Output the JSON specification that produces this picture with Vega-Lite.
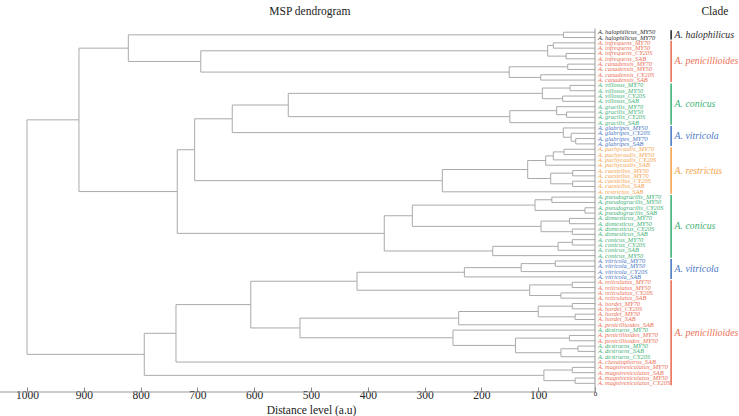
{
  "$schema": "https://vega.github.io/schema/vega-lite/v6.json",
  "width": 739,
  "height": 392,
  "autosize": {"type": "none"},
  "padding": {"left": 0, "top": 0, "right": 0, "bottom": 24},
  "background": "white",
  "config": {"view": {"stroke": null}, "font": "Liberation Serif"},
  "datasets": {
    "leaves": [
      {"i": 1, "label": "A. halophilicus_MY50", "grp": "hal"},
      {"i": 2, "label": "A. halophilicus_MY70", "grp": "hal"},
      {"i": 3, "label": "A. infrequens_MY70", "grp": "pen"},
      {"i": 4, "label": "A. infrequens_MY50", "grp": "pen"},
      {"i": 5, "label": "A. infrequens_CY20S", "grp": "pen"},
      {"i": 6, "label": "A. infrequens_SAB", "grp": "pen"},
      {"i": 7, "label": "A. canadensis_MY70", "grp": "pen"},
      {"i": 8, "label": "A. canadensis_MY50", "grp": "pen"},
      {"i": 9, "label": "A. canadensis_CY20S", "grp": "pen"},
      {"i": 10, "label": "A. canadensis_SAB", "grp": "pen"},
      {"i": 11, "label": "A. villosus_MY70", "grp": "con"},
      {"i": 12, "label": "A. villosus_MY50", "grp": "con"},
      {"i": 13, "label": "A. villosus_CY20S", "grp": "con"},
      {"i": 14, "label": "A. villosus_SAB", "grp": "con"},
      {"i": 15, "label": "A. gracilis_MY70", "grp": "con"},
      {"i": 16, "label": "A. gracilis_MY50", "grp": "con"},
      {"i": 17, "label": "A. gracilis_CY20S", "grp": "con"},
      {"i": 18, "label": "A. gracilis_SAB", "grp": "con"},
      {"i": 19, "label": "A. glabripes_MY50", "grp": "vit"},
      {"i": 20, "label": "A. glabripes_CY20S", "grp": "vit"},
      {"i": 21, "label": "A. glabripes_MY70", "grp": "vit"},
      {"i": 22, "label": "A. glabripes_SAB", "grp": "vit"},
      {"i": 23, "label": "A. pachycaulis_MY70", "grp": "res"},
      {"i": 24, "label": "A. pachycaulis_MY50", "grp": "res"},
      {"i": 25, "label": "A. pachycaulis_CY20S", "grp": "res"},
      {"i": 26, "label": "A. pachycaulis_SAB", "grp": "res"},
      {"i": 27, "label": "A. caesiellus_MY50", "grp": "res"},
      {"i": 28, "label": "A. caesiellus_MY70", "grp": "res"},
      {"i": 29, "label": "A. caesiellus_CY20S", "grp": "res"},
      {"i": 30, "label": "A. caesiellus_SAB", "grp": "res"},
      {"i": 31, "label": "A. restrictus_SAB", "grp": "res"},
      {"i": 32, "label": "A. pseudogracilis_MY70", "grp": "con"},
      {"i": 33, "label": "A. pseudogracilis_MY50", "grp": "con"},
      {"i": 34, "label": "A. pseudogracilis_CY20S", "grp": "con"},
      {"i": 35, "label": "A. pseudogracilis_SAB", "grp": "con"},
      {"i": 36, "label": "A. domesticus_MY70", "grp": "con"},
      {"i": 37, "label": "A. domesticus_MY50", "grp": "con"},
      {"i": 38, "label": "A. domesticus_CY20S", "grp": "con"},
      {"i": 39, "label": "A. domesticus_SAB", "grp": "con"},
      {"i": 40, "label": "A. conicus_MY70", "grp": "con"},
      {"i": 41, "label": "A. conicus_CY20S", "grp": "con"},
      {"i": 42, "label": "A. conicus_SAB", "grp": "con"},
      {"i": 43, "label": "A. conicus_MY50", "grp": "con"},
      {"i": 44, "label": "A. vitricola_MY70", "grp": "vit"},
      {"i": 45, "label": "A. vitricola_MY50", "grp": "vit"},
      {"i": 46, "label": "A. vitricola_CY20S", "grp": "vit"},
      {"i": 47, "label": "A. vitricola_SAB", "grp": "vit"},
      {"i": 48, "label": "A. reticulatus_MY70", "grp": "pen"},
      {"i": 49, "label": "A. reticulatus_MY50", "grp": "pen"},
      {"i": 50, "label": "A. reticulatus_CY20S", "grp": "pen"},
      {"i": 51, "label": "A. reticulatus_SAB", "grp": "pen"},
      {"i": 52, "label": "A. hordei_MY70", "grp": "pen"},
      {"i": 53, "label": "A. hordei_CY20S", "grp": "pen"},
      {"i": 54, "label": "A. hordei_MY50", "grp": "pen"},
      {"i": 55, "label": "A. hordei_SAB", "grp": "pen"},
      {"i": 56, "label": "A. penicillioides_SAB", "grp": "pen"},
      {"i": 57, "label": "A. destruens_MY70", "grp": "con"},
      {"i": 58, "label": "A. penicillioides_MY70", "grp": "pen"},
      {"i": 59, "label": "A. penicillioides_MY50", "grp": "pen"},
      {"i": 60, "label": "A. destruens_MY50", "grp": "con"},
      {"i": 61, "label": "A. destruens_SAB", "grp": "con"},
      {"i": 62, "label": "A. destruens_CY20S", "grp": "con"},
      {"i": 63, "label": "A. clavatophorus_SAB", "grp": "pen"},
      {"i": 64, "label": "A. magnivesiculatus_MY70", "grp": "pen"},
      {"i": 65, "label": "A. magnivesiculatus_SAB", "grp": "pen"},
      {"i": 66, "label": "A. magnivesiculatus_MY50", "grp": "pen"},
      {"i": 67, "label": "A. magnivesiculatus_CY20S", "grp": "pen"}
    ],
    "nodes": [
      {"h": 55.6, "ya": 1, "ha": 0, "yb": 2, "hb": 0},
      {"h": 73.4, "ya": 3, "ha": 0, "yb": 4, "hb": 0},
      {"h": 51, "ya": 5, "ha": 0, "yb": 6, "hb": 0},
      {"h": 83.3, "ya": 3.5, "ha": 73.4, "yb": 5.5, "hb": 51},
      {"h": 48, "ya": 7, "ha": 0, "yb": 8, "hb": 0},
      {"h": 95.6, "ya": 9, "ha": 0, "yb": 10, "hb": 0},
      {"h": 151, "ya": 7.5, "ha": 48, "yb": 9.5, "hb": 95.6},
      {"h": 694, "ya": 4.5, "ha": 83.3, "yb": 8.5, "hb": 151},
      {"h": 821.6, "ya": 1.5, "ha": 55.6, "yb": 6.5, "hb": 694},
      {"h": 44, "ya": 11, "ha": 0, "yb": 12, "hb": 0},
      {"h": 57, "ya": 13, "ha": 0, "yb": 14, "hb": 0},
      {"h": 92.7, "ya": 11.5, "ha": 44, "yb": 13.5, "hb": 57},
      {"h": 50, "ya": 16, "ha": 0, "yb": 17, "hb": 0},
      {"h": 67.5, "ya": 15, "ha": 0, "yb": 16.5, "hb": 50},
      {"h": 150, "ya": 15.75, "ha": 67.5, "yb": 18, "hb": 0},
      {"h": 540, "ya": 12.5, "ha": 92.7, "yb": 16.875, "hb": 150},
      {"h": 34, "ya": 21, "ha": 0, "yb": 22, "hb": 0},
      {"h": 42, "ya": 20, "ha": 0, "yb": 21.5, "hb": 34},
      {"h": 55.8, "ya": 19, "ha": 0, "yb": 20.75, "hb": 42},
      {"h": 638.6, "ya": 14.6875, "ha": 540, "yb": 19.875, "hb": 55.8},
      {"h": 54.6, "ya": 23, "ha": 0, "yb": 24, "hb": 0},
      {"h": 73.4, "ya": 23.5, "ha": 54.6, "yb": 25, "hb": 0},
      {"h": 86.8, "ya": 24.25, "ha": 73.4, "yb": 26, "hb": 0},
      {"h": 39.3, "ya": 27, "ha": 0, "yb": 28, "hb": 0},
      {"h": 39.3, "ya": 29, "ha": 0, "yb": 30, "hb": 0},
      {"h": 78, "ya": 27.5, "ha": 39.3, "yb": 29.5, "hb": 39.3},
      {"h": 118.5, "ya": 25.125, "ha": 86.8, "yb": 28.5, "hb": 78},
      {"h": 268.8, "ya": 26.8125, "ha": 118.5, "yb": 31, "hb": 0},
      {"h": 704.8, "ya": 17.28125, "ha": 638.6, "yb": 28.90625, "hb": 268.8},
      {"h": 76, "ya": 32, "ha": 0, "yb": 33, "hb": 0},
      {"h": 17.6, "ya": 34, "ha": 0, "yb": 35, "hb": 0},
      {"h": 105.6, "ya": 32.5, "ha": 76, "yb": 34.5, "hb": 17.6},
      {"h": 45, "ya": 36, "ha": 0, "yb": 37, "hb": 0},
      {"h": 40, "ya": 38, "ha": 0, "yb": 39, "hb": 0},
      {"h": 95, "ya": 36.5, "ha": 45, "yb": 38.5, "hb": 40},
      {"h": 321.6, "ya": 33.5, "ha": 105.6, "yb": 37.5, "hb": 95},
      {"h": 40, "ya": 40, "ha": 0, "yb": 41, "hb": 0},
      {"h": 65, "ya": 40.5, "ha": 40, "yb": 42, "hb": 0},
      {"h": 180, "ya": 41.25, "ha": 65, "yb": 43, "hb": 0},
      {"h": 371, "ya": 35.5, "ha": 321.6, "yb": 42.125, "hb": 180},
      {"h": 735.4, "ya": 23.09375, "ha": 704.8, "yb": 38.8125, "hb": 371},
      {"h": 908.5, "ya": 4.0, "ha": 821.6, "yb": 30.953125, "hb": 735.4},
      {"h": 70, "ya": 44, "ha": 0, "yb": 45, "hb": 0},
      {"h": 130, "ya": 44.5, "ha": 70, "yb": 46, "hb": 0},
      {"h": 230, "ya": 45.25, "ha": 130, "yb": 47, "hb": 0},
      {"h": 40, "ya": 48, "ha": 0, "yb": 49, "hb": 0},
      {"h": 60, "ya": 50, "ha": 0, "yb": 51, "hb": 0},
      {"h": 115, "ya": 48.5, "ha": 40, "yb": 50.5, "hb": 60},
      {"h": 419, "ya": 46.125, "ha": 230, "yb": 49.5, "hb": 115},
      {"h": 40, "ya": 52, "ha": 0, "yb": 53, "hb": 0},
      {"h": 35, "ya": 54, "ha": 0, "yb": 55, "hb": 0},
      {"h": 100, "ya": 52.5, "ha": 40, "yb": 54.5, "hb": 35},
      {"h": 240, "ya": 53.5, "ha": 100, "yb": 56, "hb": 0},
      {"h": 45, "ya": 58, "ha": 0, "yb": 59, "hb": 0},
      {"h": 30, "ya": 60, "ha": 0, "yb": 61, "hb": 0},
      {"h": 60, "ya": 60.5, "ha": 30, "yb": 62, "hb": 0},
      {"h": 140, "ya": 58.5, "ha": 45, "yb": 61.25, "hb": 60},
      {"h": 250, "ya": 57, "ha": 0, "yb": 59.875, "hb": 140},
      {"h": 519.4, "ya": 54.75, "ha": 240, "yb": 58.4375, "hb": 250},
      {"h": 606, "ya": 47.8125, "ha": 419, "yb": 56.59375, "hb": 519.4},
      {"h": 737.7, "ya": 52.203125, "ha": 606, "yb": 63, "hb": 0},
      {"h": 40, "ya": 64, "ha": 0, "yb": 65, "hb": 0},
      {"h": 35, "ya": 66, "ha": 0, "yb": 67, "hb": 0},
      {"h": 90, "ya": 64.5, "ha": 40, "yb": 66.5, "hb": 35},
      {"h": 793.5, "ya": 57.6015625, "ha": 737.7, "yb": 65.5, "hb": 90},
      {"h": 1000, "ya": 17.4765625, "ha": 908.5, "yb": 61.55078125, "hb": 793.5}
    ],
    "clades": [
      {"name": "A. halophilicus", "grp": "hal", "first": 1, "last": 2, "mid": 1.5},
      {"name": "A. penicillioides", "grp": "pen", "first": 3, "last": 10, "mid": 6.5},
      {"name": "A. conicus", "grp": "con", "first": 11, "last": 18, "mid": 14.5},
      {"name": "A. vitricola", "grp": "vit", "first": 19, "last": 22, "mid": 20.5},
      {"name": "A. restrictus", "grp": "res", "first": 23, "last": 31, "mid": 27},
      {"name": "A. conicus", "grp": "con", "first": 32, "last": 43, "mid": 37.5},
      {"name": "A. vitricola", "grp": "vit", "first": 44, "last": 47, "mid": 45.5},
      {"name": "A. penicillioides", "grp": "pen", "first": 48, "last": 67, "mid": 57.5}
    ]
  },
  "layer": [
    {
      "data": {"name": "nodes"},
      "mark": {"type": "rule", "color": "#aaaaaa", "strokeWidth": 1},
      "encoding": {
        "x": {
          "field": "h", "type": "quantitative",
          "scale": {"domain": [1047.5, -253.5], "nice": false, "zero": false},
          "axis": {
            "values": [0, 100, 200, 300, 400, 500, 600, 700, 800, 900, 1000],
            "format": "d",
            "domain": false, "grid": false,
            "tickSize": -5, "tickColor": "#888888",
            "labelFont": "Liberation Serif",
            "labelFontSize": {"condition": {"test": "datum.value === 0", "value": 7}, "value": 11.5},
            "labelColor": "#222222", "labelPadding": 2,
            "labelFlush": false, "labelOverlap": false,
            "title": "Distance level (a.u)",
            "titleFont": "Liberation Serif", "titleFontSize": 11.5,
            "titleFontWeight": "normal", "titleColor": "#222222",
            "titleX": 311, "titleY": 21, "titleBaseline": "alphabetic"
          }
        },
        "y": {"field": "ya", "type": "quantitative", "scale": {"domain": [-5.05, 68.63], "reverse": true, "nice": false, "zero": false}, "axis": null},
        "y2": {"field": "yb"}
      }
    },
    {
      "data": {"name": "nodes"},
      "mark": {"type": "rule", "color": "#aaaaaa", "strokeWidth": 1},
      "encoding": {
        "x": {"field": "ha", "type": "quantitative"},
        "x2": {"field": "h"},
        "y": {"field": "ya", "type": "quantitative", "axis": null}
      }
    },
    {
      "data": {"name": "nodes"},
      "mark": {"type": "rule", "color": "#aaaaaa", "strokeWidth": 1},
      "encoding": {
        "x": {"field": "hb", "type": "quantitative"},
        "x2": {"field": "h"},
        "y": {"field": "yb", "type": "quantitative", "axis": null}
      }
    },
    {
      "data": {"values": [{}]},
      "mark": {"type": "rule", "color": "#999999", "strokeWidth": 1},
      "encoding": {
        "x": {"datum": 1047.5, "type": "quantitative"},
        "x2": {"datum": 0},
        "y": {"datum": 68.63, "type": "quantitative", "axis": null}
      }
    },
    {
      "data": {"values": [{}]},
      "mark": {"type": "rule", "color": "#999999", "strokeWidth": 1},
      "encoding": {
        "x": {"datum": 0, "type": "quantitative"},
        "y": {"datum": 0.3, "type": "quantitative", "axis": null},
        "y2": {"datum": 68.63}
      }
    },
    {
      "data": {"name": "leaves"},
      "mark": {"type": "text", "align": "left", "baseline": "middle", "dx": 3, "font": "Liberation Serif", "fontSize": 6.4, "fontStyle": "italic"},
      "encoding": {
        "x": {"datum": 0, "type": "quantitative"},
        "y": {"field": "i", "type": "quantitative", "axis": null},
        "text": {"field": "label"},
        "color": {
          "field": "grp", "type": "nominal", "legend": null,
          "scale": {"domain": ["hal", "pen", "con", "vit", "res"], "range": ["#2b2b2b", "#ec6f55", "#3fb377", "#4d78c6", "#f5a44f"]}
        }
      }
    },
    {
      "data": {"name": "clades"},
      "mark": {"type": "rule", "strokeWidth": 1.6, "yOffset": -2, "y2Offset": 2},
      "encoding": {
        "x": {"datum": -134, "type": "quantitative"},
        "y": {"field": "first", "type": "quantitative", "axis": null},
        "y2": {"field": "last"},
        "color": {"field": "grp", "type": "nominal", "legend": null}
      }
    },
    {
      "data": {"name": "clades"},
      "mark": {"type": "text", "align": "left", "baseline": "middle", "dx": 3.5, "font": "Liberation Serif", "fontSize": 9.8, "fontStyle": "italic"},
      "encoding": {
        "x": {"datum": -134, "type": "quantitative"},
        "y": {"field": "mid", "type": "quantitative", "axis": null},
        "text": {"field": "name"},
        "color": {"field": "grp", "type": "nominal", "legend": null}
      }
    },
    {
      "data": {"values": [{}]},
      "mark": {"type": "text", "text": "MSP dendrogram", "align": "center", "baseline": "middle", "font": "Liberation Serif", "fontSize": 11.5, "color": "#222222"},
      "encoding": {
        "x": {"datum": 502, "type": "quantitative"},
        "y": {"datum": -2.8, "type": "quantitative", "axis": null}
      }
    },
    {
      "data": {"values": [{}]},
      "mark": {"type": "text", "text": "Clade", "align": "center", "baseline": "middle", "font": "Liberation Serif", "fontSize": 11.5, "color": "#222222"},
      "encoding": {
        "x": {"datum": -211, "type": "quantitative"},
        "y": {"datum": -2.8, "type": "quantitative", "axis": null}
      }
    }
  ]
}
